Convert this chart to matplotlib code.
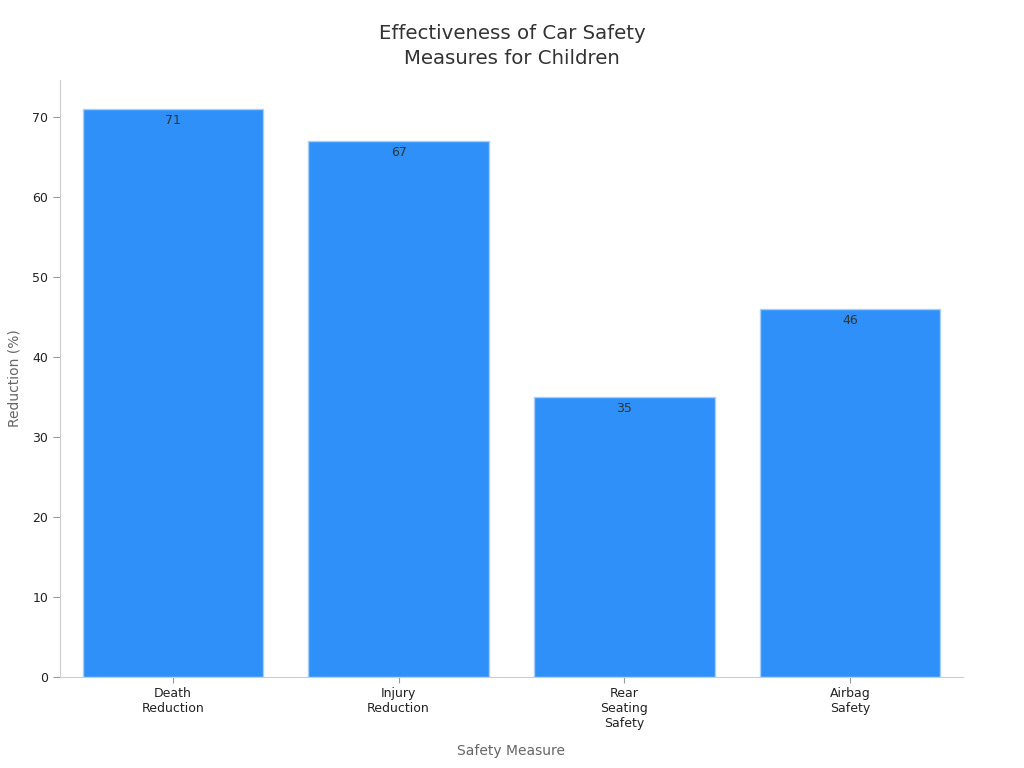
import matplotlib
matplotlib.use("Agg")
import matplotlib.pyplot as plt

categories = ["Death\nReduction", "Injury\nReduction", "Rear\nSeating\nSafety", "Airbag\nSafety"]
values = [71, 67, 35, 46]

fig = plt.figure(figsize=(10.24, 7.68), dpi=100)
ax = fig.add_axes([0.0586, 0.1185, 0.8818, 0.7773])

x = list(range(len(categories)))
bars = ax.bar(x, values, width=0.8, color="#2E90F8", edgecolor="#A9CDF5", linewidth=1)
for xi, v in zip(x, values):
    ax.text(xi, v - 0.6, str(v), ha="center", va="top", fontsize=9, color="#333333")

ax.set_xlim(-0.5, 3.5)
ax.set_ylim(0, 74.6)
ax.set_xticks(x)
ax.set_xticklabels(categories, fontsize=9, color="#222222")
ax.set_yticks(range(0, 71, 10))
ax.tick_params(axis="y", labelsize=9, labelcolor="#222222", color="#999999", length=5)
ax.tick_params(axis="x", color="#999999", length=4)

for s in ["top", "right"]:
    ax.spines[s].set_visible(False)
for s in ["left", "bottom"]:
    ax.spines[s].set_color("#CCCCCC")

ax.set_xlabel("Safety Measure", fontsize=10, color="#666666", labelpad=10)
ax.set_ylabel("Reduction (%)", fontsize=10, color="#666666", labelpad=8)
fig.text(0.5, 0.94, "Effectiveness of Car Safety\nMeasures for Children", fontsize=14.2,
         color="#333333", ha="center", va="center", linespacing=1.45)

fig.savefig("out.png", dpi=100)
